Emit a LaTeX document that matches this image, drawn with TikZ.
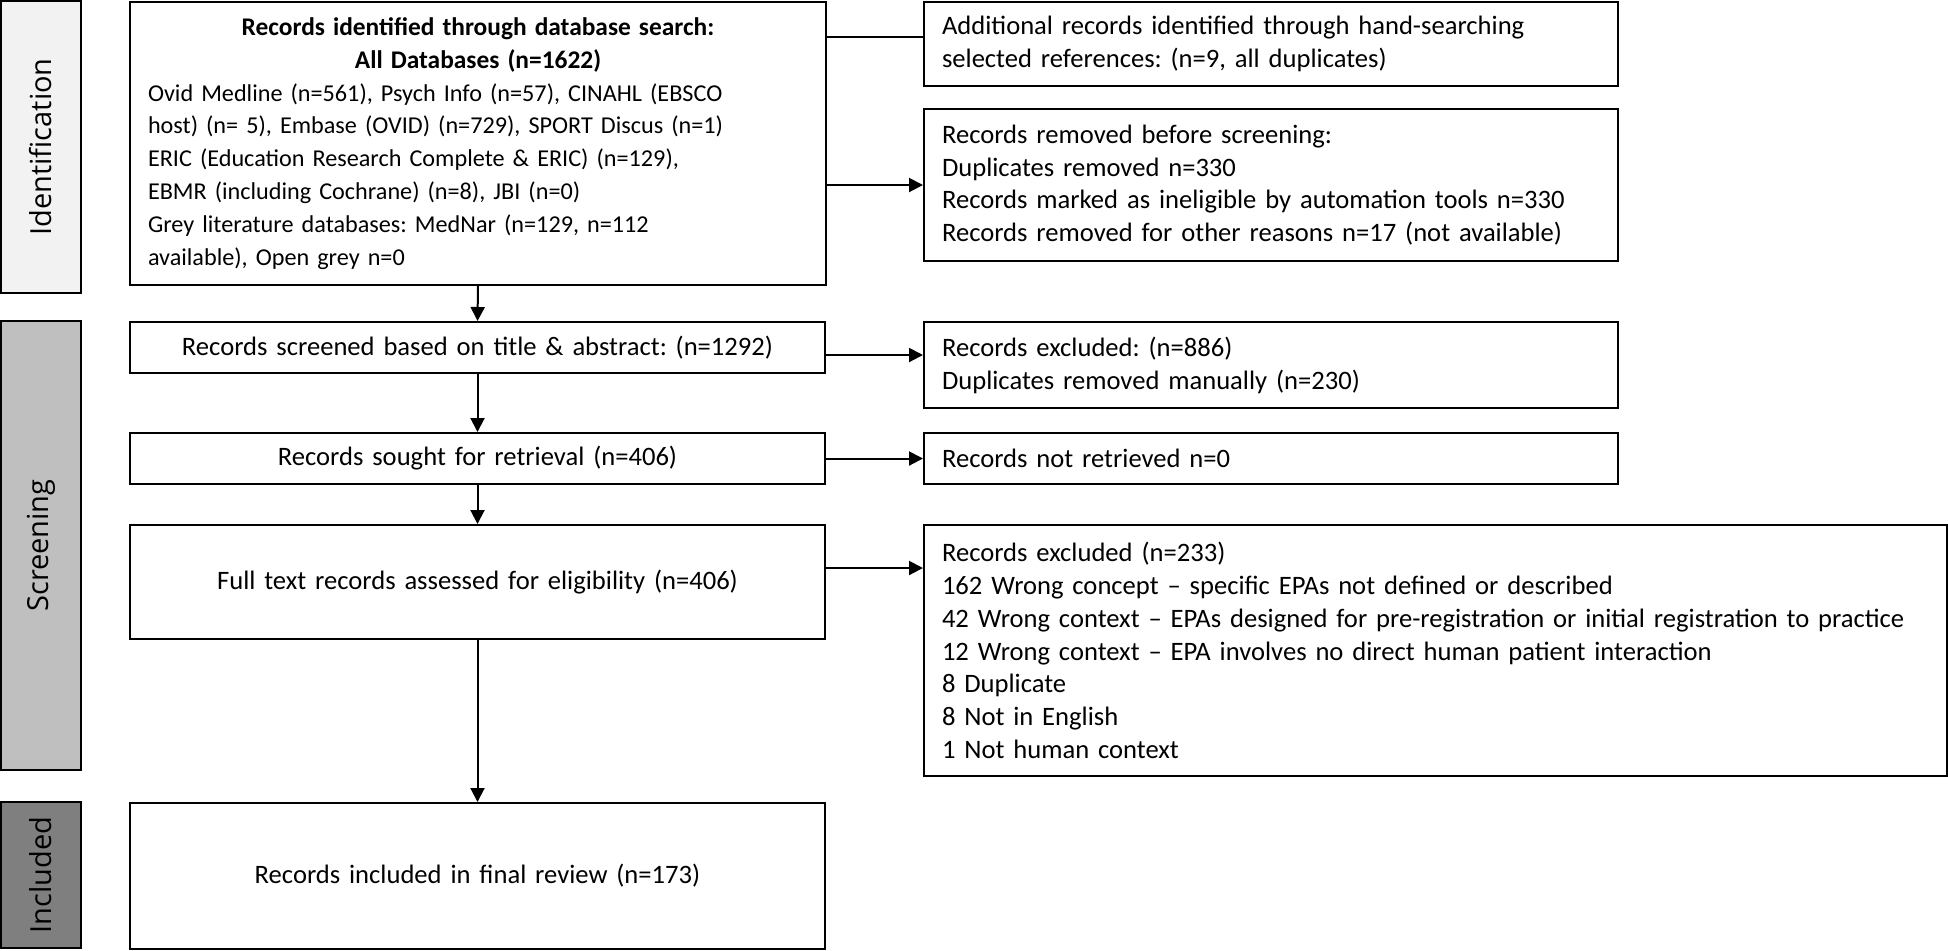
\documentclass[tikz,border=0pt]{standalone}
\usepackage{fontspec}
\setmainfont{Carlito}
\newfontfamily\sidefont{Open Sans}
\usetikzlibrary{arrows.meta}
\definecolor{idgray}{HTML}{F2F2F2}
\definecolor{scrgray}{HTML}{BFBFBF}
\definecolor{incgray}{HTML}{7F7F7F}
\frenchspacing
\begin{document}
\begin{tikzpicture}[x=0.5pt, y=-0.5pt,
    rbox/.style={draw, line width=1pt, anchor=north west, inner xsep=9pt, inner ysep=0pt,
                 align=left, font=\fontsize{13.3}{16.4}\selectfont},
    cbox/.style={rbox, align=center},
    phase/.style={draw, line width=1pt, rotate=90, minimum height=40pt, inner sep=0pt,
                  font=\sidefont\fontsize{14.5}{17}\selectfont},
    arr/.style={-{Triangle[length=7pt,width=7pt]}, line width=1pt},
    link/.style={line width=1pt}]
    \useasboundingbox (0,0) rectangle (1948,950);
    % phase bars
    \node[phase, fill=idgray, minimum width=146pt] (ident) at (41,147) {Identification};
    \node[phase, fill=scrgray, minimum width=224.5pt] (screen) at (41,545.5) {Screening};
    \node[phase, fill=incgray, minimum width=73pt] (incl) at (41,875) {Included};
    % left column
    \node[rbox, text width=330pt, minimum height=141.5pt,
          font=\fontsize{12.1}{16.4}\selectfont] (search) at (129,1)
        {{\centering\bfseries\fontsize{12.7}{16.4}\selectfont
          Records identified through database search:\\
          All Databases (n=1622)\par}
         Ovid Medline (n=561), Psych Info (n=57), CINAHL (EBSCO\\
         host) (n= 5), Embase (OVID) (n=729), SPORT Discus (n=1)\\
         ERIC (Education Research Complete \& ERIC) (n=129),\\
         EBMR (including Cochrane) (n=8), JBI (n=0)\\
         Grey literature databases: MedNar (n=129, n=112\\
         available), Open grey n=0};
    \node[cbox, text width=329.5pt, minimum height=25.5pt] (screened) at (129,321)
        {Records screened based on title \& abstract: (n=1292)};
    \node[cbox, text width=329.5pt, minimum height=25.5pt] (sought) at (129,432)
        {Records sought for retrieval (n=406)};
    \node[cbox, text width=329.5pt, minimum height=57pt] (fulltext) at (129,524)
        {Full text records assessed for eligibility (n=406)};
    \node[cbox, text width=329.5pt, minimum height=73pt] (included) at (129,802)
        {Records included in final review (n=173)};
    % right column
    \node[rbox, text width=329pt, minimum height=42pt] (hand) at (923,1)
        {Additional records identified through hand-searching\\
         selected references: (n=9, all duplicates)};
    \node[rbox, text width=329pt, minimum height=76pt] (removed) at (923,108)
        {Records removed before screening:\\
         Duplicates removed n=330\\
         Records marked as ineligible by automation tools n=330\\
         Records removed for other reasons n=17 (not available)};
    \node[rbox, text width=329pt, minimum height=43pt] (excl1) at (923,321)
        {Records excluded: (n=886)\\
         Duplicates removed manually (n=230)};
    \node[rbox, text width=329pt, minimum height=25.5pt] (notret) at (923,432)
        {Records not retrieved n=0};
    \node[rbox, text width=493.5pt, minimum height=125.5pt] (excl2) at (923,524)
        {Records excluded (n=233)\\
         162 Wrong concept -- specific EPAs not defined or described\\
         42 Wrong context -- EPAs designed for pre-registration or initial registration to practice\\
         12 Wrong context -- EPA involves no direct human patient interaction\\
         8 Duplicate\\
         8 Not in English\\
         1 Not human context};
    % connectors
    \draw[link] ([yshift=3.5pt]hand.west -| search.east) -- ([yshift=3.5pt]hand.west);
    \draw[arr] (removed.west -| search.east) -- (removed.west);
    \draw[arr] ([yshift=5pt]excl1.west -| screened.east) -- ([yshift=5pt]excl1.west);
    \draw[arr] (sought.east) -- (notret.west);
    \draw[arr] ([yshift=7pt]fulltext.east) -- ([yshift=7pt]fulltext.east -| excl2.west);
    \draw[arr] (search.south) -- (screened.north);
    \draw[arr] (screened.south) -- (sought.north);
    \draw[arr] (sought.south) -- (fulltext.north);
    \draw[arr] (fulltext.south) -- (included.north);
\end{tikzpicture}
\end{document}
